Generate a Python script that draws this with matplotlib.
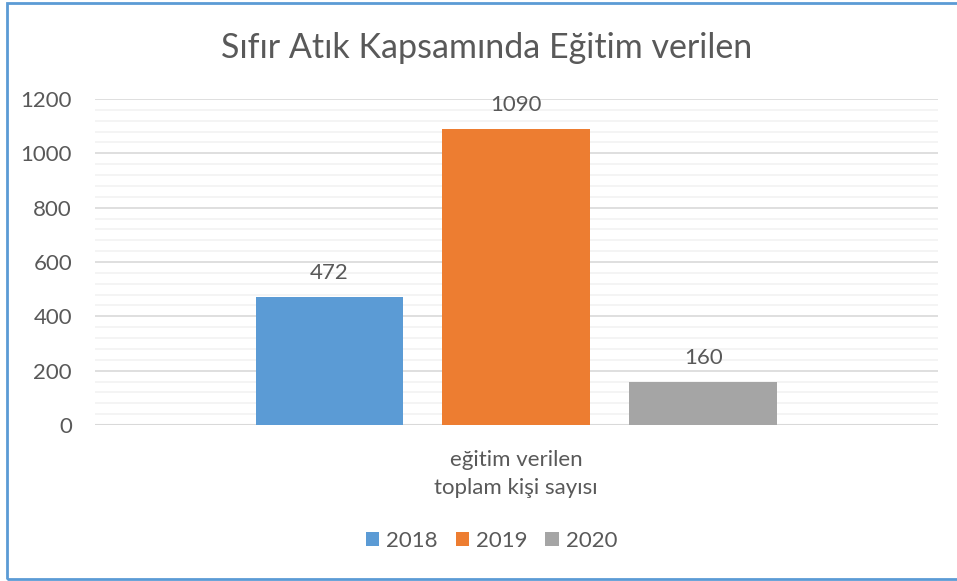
import numpy as np
import matplotlib.pyplot as plt
from matplotlib.patches import Rectangle
from matplotlib.ticker import MultipleLocator

plt.rcParams['font.family'] = ['Lato', 'DejaVu Sans']

title = 'Sıfır Atık Kapsamında Eğitim verilen'
category = 'eğitim verilen\ntoplam kişi sayısı'
years = ['2018', '2019', '2020']
values = [472, 1090, 160]
colors = ['#5B9BD5', '#ED7D31', '#A5A5A5']
text_color = '#595959'

fig = plt.figure(figsize=(9.57, 5.81), dpi=100)
ax = fig.add_axes([0.0993, 0.2685, 0.8804, 0.5611])

x = np.array([-1, 0, 1])
for xi, v, c, lab in zip(x, values, colors, years):
    ax.bar(xi, v, width=0.79, color=c, label=lab, zorder=3)
    ax.annotate(str(v), (xi, v), xytext=(0, 17), textcoords='offset points',
                ha='center', va='center', fontsize=16, color=text_color)

ax.set_xlim(-2.254, 2.254)
ax.set_ylim(0, 1200)
ax.yaxis.set_major_locator(MultipleLocator(200))
ax.yaxis.set_minor_locator(MultipleLocator(40))
ax.grid(which='major', axis='y', color='#D9D9D9', linewidth=1.2, zorder=0)
ax.grid(which='minor', axis='y', color='#F2F2F2', linewidth=1.2, zorder=0)
for s in ax.spines.values():
    s.set_visible(False)
ax.axhline(0, color='#D9D9D9', linewidth=1.5, zorder=2)
ax.tick_params(axis='y', which='both', length=0, labelsize=16, labelcolor=text_color, pad=16.5)
ax.set_xticks([0])
ax.set_xticklabels([category], fontsize=16, color=text_color, linespacing=1.52)
ax.tick_params(axis='x', length=0, pad=18)

fig.text(0.508, 0.918, title, ha='center', va='center', fontsize=24.5, color=text_color)

leg = fig.legend(loc='center', bbox_to_anchor=(0.5136, 0.069), ncol=3, frameon=False,
                 fontsize=16, handlelength=0.6, handleheight=0.6, handletextpad=0.32,
                 columnspacing=0.8, borderpad=0)
for t in leg.get_texts():
    t.set_color(text_color)

fig.patches.append(Rectangle((0.0073, 0.004), 1.0, 0.99, transform=fig.transFigure,
                             fill=False, edgecolor='#5B9BD5', linewidth=2))

fig.savefig('out.png', dpi=100)
